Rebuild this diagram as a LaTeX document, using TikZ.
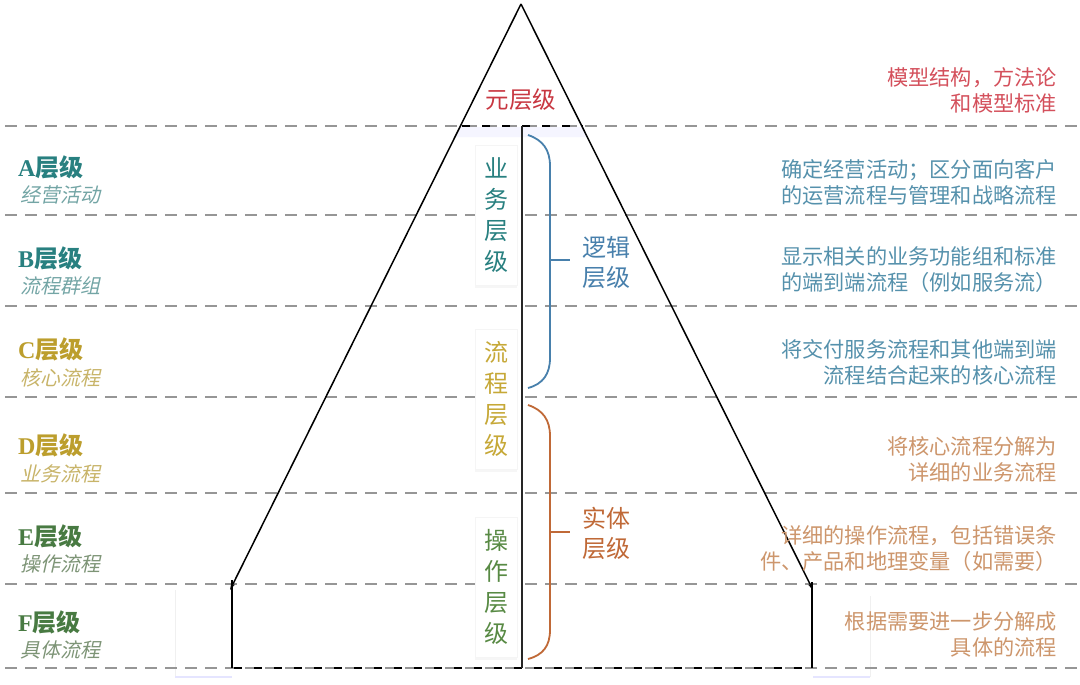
\documentclass[tikz,border=0pt]{standalone}
\usepackage{fontspec}
\setmainfont{Liberation Serif}
\newfontfamily\cjk{Noto Sans CJK SC}
\newfontfamily\cjkit[FakeSlant=0.22]{Noto Sans CJK SC}
\usetikzlibrary{arrows.meta,shadows,calc}
\definecolor{metared}{RGB}{200,55,65}
\definecolor{descred}{RGB}{212,80,92}
\definecolor{tealc}{RGB}{40,128,128}
\definecolor{tealsub}{RGB}{115,165,165}
\definecolor{descblue}{RGB}{85,145,172}
\definecolor{goldc}{RGB}{188,158,45}
\definecolor{goldsub}{RGB}{200,180,105}
\definecolor{descorange}{RGB}{205,150,108}
\definecolor{greenc}{RGB}{72,122,66}
\definecolor{greensub}{RGB}{125,148,118}
\definecolor{vgreen}{RGB}{88,138,68}
\definecolor{vgold}{RGB}{198,168,55}
\definecolor{bblue}{RGB}{72,128,172}
\definecolor{borange}{RGB}{192,105,55}
\definecolor{dashgray}{RGB}{150,150,150}
\tikzset{
  gline/.style={draw=dashgray,line width=1.6pt,dash pattern=on 12pt off 8pt},
  bline/.style={draw=black,line width=1.6pt,dash pattern=on 8pt off 12pt,dash phase=-2pt},
  tri/.style={draw=black,line width=1.5pt},
  desc/.style={anchor=east,align=right,inner sep=0pt,font=\fontsize{21.2}{26}\selectfont\cjk},
  lvl/.style={anchor=west,inner sep=0pt,font=\fontsize{24}{28}\selectfont},
  lvlsub/.style={anchor=west,inner sep=0pt,font=\fontsize{20}{24}\selectfont\cjkit},
  vbox/.style={fill=white,draw=black!4,line width=0.8pt,minimum width=42pt,minimum height=140pt,inner sep=0pt,align=center,
    font=\fontsize{24}{31}\selectfont\cjk,
    drop shadow={opacity=0.07,shadow xshift=0pt,shadow yshift=-3pt}},
  brtext/.style={anchor=west,inner sep=0pt,align=center,font=\fontsize{24}{30}\selectfont\cjk},
  brace/.style={line width=1.8pt},
}
\begin{document}
\begin{tikzpicture}[x=1pt,y=-1pt]
\useasboundingbox (0,0) rectangle (1080,685);
\fill[white] (0,0) rectangle (1080,685);

% faint boxes near bottom corners
\draw[black!6,line width=0.8pt] (175,590) -- (175,677);
\draw[blue!10,line width=1.5pt] (175,677) -- (232,677);
\draw[black!6,line width=0.8pt] (870,596) -- (870,677);
\draw[blue!10,line width=1.5pt] (813,677) -- (870,677);

% light fill under top line inside triangle
\fill[blue!4] (460,127) -- (583,127) -- (588,137) -- (455,137) -- cycle;

% dashed level lines
\foreach \yy in {126,215,306,397,493,584,668}
  \draw[gline] (5,\yy) -- (1077,\yy);

% triangle
\coordinate (apex) at (521,4);
\coordinate (lend) at (230,590);
\coordinate (rend) at (813,590);
\coordinate (lk) at (232,580);
\coordinate (rk) at (812,582);
\coordinate (lb) at (232,668);
\coordinate (rb) at (812,668);
\coordinate (tl) at (460,126);
\coordinate (tr) at (583,126);
\coordinate (ctop) at (522,126);
\coordinate (cbot) at (522,668);
\draw[tri,-{Stealth[length=7pt,width=4pt]}] (apex) -- (lend);
\draw[tri,-{Stealth[length=7pt,width=4pt]}] (apex) -- (rend);
\draw[tri] (lk) -- (lb);
\draw[tri] (rk) -- (rb);
\draw[bline] (lb) -- (rb);
\draw[bline] (tl) -- (tr);
\draw[line width=2pt,black!85] (ctop) -- (cbot);

% top label
\node[inner sep=0pt,text=metared,font=\fontsize{23.5}{26}\selectfont\cjk] (meta) at (521,100) {元层级};

% vertical boxes
\node[vbox,text=tealc] (yw) at (496,215) {业\\务\\层\\级};
\node[vbox,text=vgold] (lc) at (496,399) {流\\程\\层\\级};
\node[vbox,text=vgreen] (cz) at (496,587) {操\\作\\层\\级};
\draw[line width=2pt,black!85] (ctop) -- (cbot);

% brackets
\coordinate (bt1) at (528,135);
\coordinate (bb1) at (528,388);
\coordinate (bm1) at (550,260);
\coordinate (bk1) at (570,260);
\draw[brace,bblue] (bt1) .. controls (543,140) and (550,150) .. (550,166) -- (550,358) .. controls (550,374) and (543,384) .. (bb1);
\draw[brace,bblue] (bm1) -- (bk1);
\node[brtext,text=bblue] (lj) at (582,262) {逻辑\\层级};

\coordinate (bt2) at (528,405);
\coordinate (bb2) at (528,659);
\coordinate (bm2) at (550,532);
\coordinate (bk2) at (570,532);
\draw[brace,borange] (bt2) .. controls (543,410) and (550,420) .. (550,436) -- (550,630) .. controls (550,646) and (543,655) .. (bb2);
\draw[brace,borange] (bm2) -- (bk2);
\node[brtext,text=borange] (st) at (582,533) {实体\\层级};

% left labels
\node[lvl,text=tealc] (A) at (18,167) {\textbf{A}{\cjk\bfseries 层级}};
\node[lvlsub,text=tealsub] (As) at (20,195) {经营活动};
\node[lvl,text=tealc] (B) at (18,258) {\textbf{B}{\cjk\bfseries 层级}};
\node[lvlsub,text=tealsub] (Bs) at (20,286) {流程群组};
\node[lvl,text=goldc] (C) at (18,349) {\textbf{C}{\cjk\bfseries 层级}};
\node[lvlsub,text=goldsub] (Cs) at (20,378) {核心流程};
\node[lvl,text=goldc] (D) at (18,445) {\textbf{D}{\cjk\bfseries 层级}};
\node[lvlsub,text=goldsub] (Ds) at (20,474) {业务流程};
\node[lvl,text=greenc] (E) at (18,536) {\textbf{E}{\cjk\bfseries 层级}};
\node[lvlsub,text=greensub] (Es) at (20,564) {操作流程};
\node[lvl,text=greenc] (F) at (18,622) {\textbf{F}{\cjk\bfseries 层级}};
\node[lvlsub,text=greensub] (Fs) at (20,650) {具体流程};

% right descriptions
\node[desc,text=descred] (d0) at (1057,90) {模型结构，方法论\\和模型标准};
\node[desc,text=descblue] (d1) at (1057,182) {确定经营活动；区分面向客户\\的运营流程与管理和战略流程};
\node[desc,text=descblue] (d2) at (1057,270) {显示相关的业务功能组和标准\\的端到端流程（例如服务流）};
\node[desc,text=descblue] (d3) at (1057,362) {将交付服务流程和其他端到端\\流程结合起来的核心流程};
\node[desc,text=descorange] (d4) at (1057,459) {将核心流程分解为\\详细的业务流程};
\node[desc,text=descorange] (d5) at (1057,549) {详细的操作流程，包括错误条\\件、产品和地理变量（如需要）};
\node[desc,text=descorange] (d6) at (1057,634) {根据需要进一步分解成\\具体的流程};
\end{tikzpicture}
\end{document}
